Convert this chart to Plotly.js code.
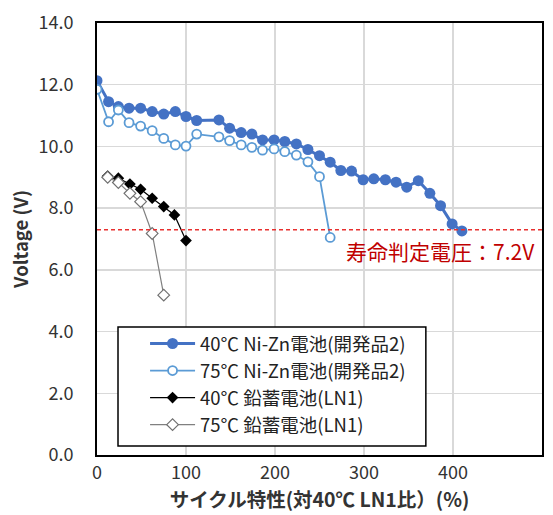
<!DOCTYPE html>
<html>
<head>
<meta charset="utf-8">
<script src="https://cdn.plot.ly/plotly-3.0.1.min.js"></script>
<style>html,body{margin:0;padding:0;background:#fff;}#chart{width:553px;height:515px;}</style>
</head>
<body>
<div id="chart"></div>
<script>
const niZn40X = [0, 13, 24, 36, 49, 62, 75, 88, 100, 112, 137, 149, 162, 174, 186, 199, 211, 224, 237, 250, 262, 274, 286, 299, 311, 324, 336, 348, 361, 374, 386, 399, 410];
const niZn40Y = [12.13, 11.45, 11.29, 11.24, 11.24, 11.13, 11.05, 11.13, 10.97, 10.84, 10.86, 10.59, 10.45, 10.40, 10.21, 10.21, 10.16, 10.08, 9.90, 9.70, 9.49, 9.22, 9.20, 8.92, 8.95, 8.92, 8.84, 8.68, 8.89, 8.48, 8.08, 7.49, 7.26];
const niZn75X = [0, 13, 24, 36, 49, 62, 75, 88, 100, 112, 137, 149, 162, 174, 186, 199, 211, 224, 237, 250, 262];
const niZn75Y = [11.85, 10.80, 11.18, 10.77, 10.66, 10.51, 10.26, 10.05, 10.01, 10.40, 10.31, 10.19, 10.05, 9.97, 9.88, 9.92, 9.83, 9.72, 9.50, 9.02, 7.05];
const lead40X = [12, 24, 37, 49, 62, 75, 87, 100];
const lead40Y = [9.04, 8.97, 8.78, 8.61, 8.32, 8.05, 7.78, 6.95];
const lead75X = [12, 24, 37, 49, 62, 75];
const lead75Y = [9.00, 8.83, 8.48, 8.21, 7.18, 5.18];
const seriesNames = ["40℃ Ni-Zn電池(開発品2)", "75℃ Ni-Zn電池(開発品2)", "40℃ 鉛蓄電池(LN1)", "75℃ 鉛蓄電池(LN1)"];
const lifeVoltage = 7.3;
const lifeLabel = "寿命判定電圧：7.2V";
const xTicks = [0, 100, 200, 300, 400, 500];
const yTicks = [0, 2, 4, 6, 8, 10, 12, 14];

const FONT = '"Noto Sans CJK JP", "Noto Sans", sans-serif';

const traces = [
  {x: niZn40X, y: niZn40Y, name: seriesNames[0], mode: 'lines+markers',
   line: {color: '#4472c4', width: 3},
   marker: {symbol: 'circle', size: 11, color: '#4472c4'}},
  {x: niZn75X, y: niZn75Y, name: seriesNames[1], mode: 'lines+markers',
   line: {color: '#5b9bd5', width: 1.8},
   marker: {symbol: 'circle', size: 9, color: '#ffffff', line: {color: '#5b9bd5', width: 1.8}}},
  {x: lead40X, y: lead40Y, name: seriesNames[2], mode: 'lines+markers',
   line: {color: '#000000', width: 1.2},
   marker: {symbol: 'diamond', size: 9, color: '#000000'}},
  {x: lead75X, y: lead75Y, name: seriesNames[3], mode: 'lines+markers',
   line: {color: '#808080', width: 1.2},
   marker: {symbol: 'diamond', size: 9, color: '#ffffff', line: {color: '#707070', width: 1.2}}}
];

const layout = {
  width: 553, height: 515,
  margin: {l: 97, r: 11, t: 23, b: 60, pad: 0},
  paper_bgcolor: '#ffffff', plot_bgcolor: '#ffffff',
  font: {family: FONT, color: '#404040', size: 16},
  showlegend: true,
  legend: {x: 0.108, y: 0.301, xanchor: 'left', yanchor: 'top',
           borderwidth: 0, bgcolor: 'rgba(0,0,0,0)', itemwidth: 45,
           font: {family: FONT, size: 18.5, color: '#222222'}, tracegroupgap: 0},
  xaxis: {range: [0, 500], tickvals: xTicks, ticktext: xTicks.map(String),
          showgrid: true, gridcolor: '#d9d9d9', gridwidth: 1.5,
          showline: true, linecolor: '#000000', linewidth: 2, mirror: true,
          ticks: '', zeroline: false, tickfont: {size: 18, color: '#333333'},
          title: {text: '<b>サイクル特性(対40℃ LN1比）(%)</b>', font: {size: 19.5, color: '#333333'}, standoff: 4}},
  yaxis: {range: [0, 14], tickvals: yTicks, ticktext: yTicks.map(v => v.toFixed(1)),
          showgrid: true, gridcolor: '#d9d9d9', gridwidth: 1.5,
          showline: true, linecolor: '#000000', linewidth: 2, mirror: true,
          ticks: '', zeroline: false, tickfont: {size: 18, color: '#333333'},
          ticklabelstandoff: 18,
          title: {text: '<b>Voltage (V)</b>', font: {size: 18.5, color: '#333333'}, standoff: 5}},
  shapes: [
    {type: 'line', xref: 'x', yref: 'y', x0: 0, x1: 500, y0: lifeVoltage, y1: lifeVoltage,
     line: {color: '#e8302f', width: 1.4, dash: '4px,3px'}, layer: 'above'},
    {type: 'rect', xref: 'paper', yref: 'paper', x0: 0.0472, x1: 0.739, y0: 0.0208, y1: 0.2963,
     fillcolor: '#ffffff', line: {color: '#000000', width: 1.5}, layer: 'above'}
  ],
  annotations: [{xref: 'x', yref: 'y', x: 494, y: lifeVoltage, xanchor: 'right', yanchor: 'top',
                 text: lifeLabel, showarrow: false, yshift: -4,
                 font: {family: FONT, size: 21, color: '#c00000'}}]
};

Plotly.newPlot('chart', traces, layout, {displayModeBar: false, staticPlot: true});
</script>
</body>
</html>
